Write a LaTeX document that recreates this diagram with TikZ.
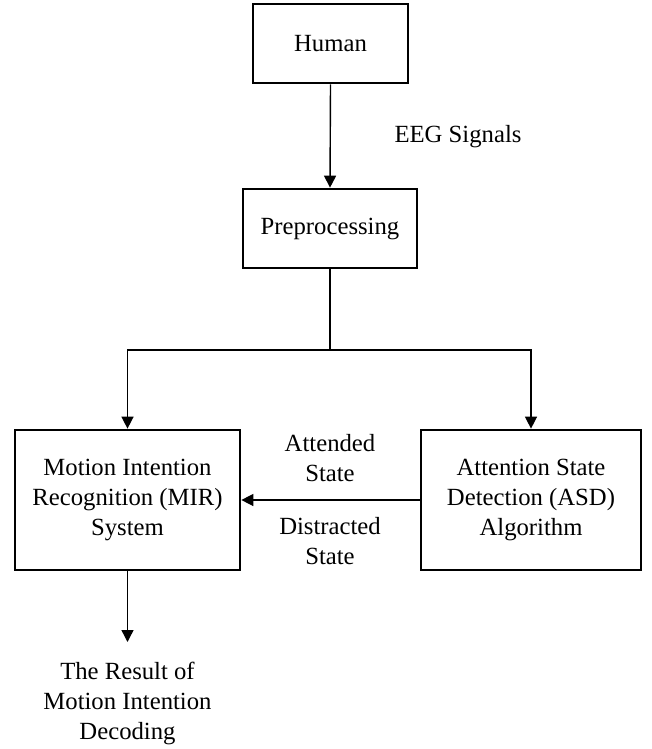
\documentclass[tikz,border=0pt]{standalone}
\usepackage{fontspec}
\setmainfont{Liberation Serif}
\usetikzlibrary{arrows.meta}
\begin{document}
\begin{tikzpicture}[x=1pt,y=-1pt,
  box/.style={draw=black, line width=2.7pt, minimum width=#1, align=center, inner sep=0pt},
  lbl/.style={align=center, inner sep=0pt},
  conn/.style={draw=black, line width=1.4pt},
  arr/.style={conn, -{Triangle[length=12pt,width=12pt]}},
  every node/.style={font=\fontsize{24.7}{30}\selectfont}]
\useasboundingbox (0,0) rectangle (652,749);
\node[box=155pt, minimum height=79pt] (human) at (330.5,43.5) {Human};
\node[box=174pt, minimum height=79pt] (prep) at (330,228.5) {Preprocessing};
\node[box=225pt, minimum height=140pt] (mir) at (127.5,500) {Motion Intention\\Recognition (MIR)\\System};
\node[box=220pt, minimum height=140pt] (asd) at (531,500) {Attention State\\Detection (ASD)\\Algorithm};
\node[lbl] (eeg) at (458,137) {EEG Signals};
\node[lbl] (att) at (330,458) {Attended\\State};
\node[lbl] (dis) at (330,541) {Distracted\\State};
\node[lbl] (res) at (127.5,703) {The Result of\\Motion Intention\\Decoding};
\coordinate (junc) at (330,350);
\coordinate (restip) at (127.5,642);
\draw[arr] (human.south) -- (prep.north);
\draw[conn] (prep.south) -- (junc);
\draw[arr] (junc) -| (mir.north);
\draw[arr] (junc) -| (asd.north);
\draw[arr] (asd.west) -- (mir.east);
\draw[arr] (mir.south) -- (restip);
\end{tikzpicture}
\end{document}
